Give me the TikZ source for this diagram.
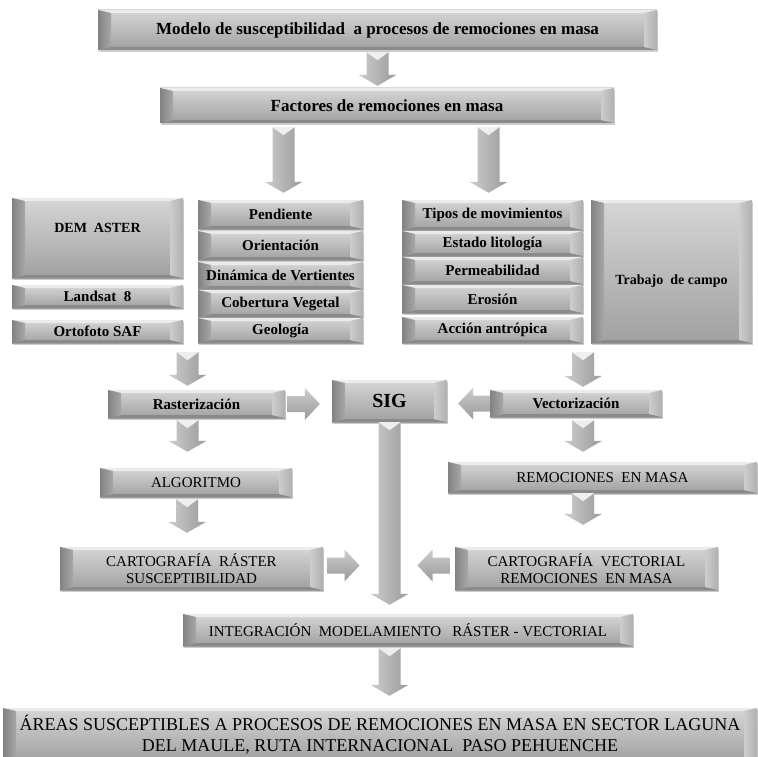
\documentclass[tikz,border=0pt]{standalone}
\usepackage{fontspec}
\setmainfont{Liberation Serif}
\usetikzlibrary{calc}
\definecolor{bodyT}{HTML}{D6D6D6}
\definecolor{bodyB}{HTML}{A0A0A0}
\definecolor{bvT}{HTML}{EBEBEB}
\definecolor{bvB}{HTML}{8A8A8A}
\definecolor{bvLa}{HTML}{828282}
\definecolor{bvLb}{HTML}{A8A8A8}
\definecolor{bvRa}{HTML}{B0B0B0}
\definecolor{bvRb}{HTML}{CDCDCD}
\definecolor{arL}{HTML}{CDCDCD}
\definecolor{arR}{HTML}{9A9A9A}
\definecolor{arV}{HTML}{EFEFEF}
\newcommand{\bvx}{13pt}
\newcommand{\bvy}{3pt}
\tikzset{
 bevbox/.style={inner sep=2pt, align=center, text=black,
   font=\bfseries\fontsize{15}{17}\selectfont,
   preaction={fill=black!20, transform canvas={xshift=1pt,yshift=-2pt}},
   path picture={
     \coordinate (pNW) at (path picture bounding box.north west);
     \coordinate (pNE) at (path picture bounding box.north east);
     \coordinate (pSW) at (path picture bounding box.south west);
     \coordinate (pSE) at (path picture bounding box.south east);
     \shade[top color=bodyT, bottom color=bodyB] (pNW) rectangle (pSE);
     \fill[bvT] (pNW) -- (pNE) -- ($(pNE)+(-\bvx,-\bvy)$) -- ($(pNW)+(\bvx,-\bvy)$) -- cycle;
     \fill[bvB] (pSW) -- (pSE) -- ($(pSE)+(-\bvx,\bvy)$) -- ($(pSW)+(\bvx,\bvy)$) -- cycle;
     \shade[left color=bvLa, right color=bvLb] (pNW) -- (pSW) -- ($(pSW)+(\bvx,\bvy)$) -- ($(pNW)+(\bvx,-\bvy)$) -- cycle;
     \shade[left color=bvRb, right color=bvRa] (pNE) -- (pSE) -- ($(pSE)+(-\bvx,\bvy)$) -- ($(pNE)+(-\bvx,-\bvy)$) -- cycle;
   }},
 capsfont/.style={font=\fontsize{15}{17}\selectfont},
 bigbold/.style={font=\bfseries\fontsize{17}{19}\selectfont},
 lbl/.style={font=\bfseries\fontsize{14}{16}\selectfont, text=black, inner sep=0pt},
}
\newcommand{\bbox}[7][]{%
 \node[bevbox,minimum width={(#5-#3)*1pt},minimum height={(#6-#4)*1pt},#1] (#2) at ({(#3+#5)/2},{(#4+#6)/2}) {#7};}
\newcommand{\dnArrow}[2]{%
 \shade[left color=arL, right color=arR] let \p1=#1, \p2=#2 in
  (\x1-11pt,\y1) -- (\x1+11pt,\y1) -- (\x1+11pt,\y2+11pt) -- (\x1+19pt,\y2+11pt) -- (\x1,\y2) -- (\x1-19pt,\y2+11pt) -- (\x1-11pt,\y2+11pt) -- cycle;
 \fill[arV] let \p1=#1 in (\x1-11pt,\y1) -- (\x1+11pt,\y1) -- (\x1,\y1-8pt) -- cycle;}
\newcommand{\rtArrow}[2]{%
 \shade[top color=arL, bottom color=arR] let \p1=#1, \p2=#2 in
  (\x1,\y1+8pt) -- (\x2-15pt,\y1+8pt) -- (\x2-15pt,\y1+16pt) -- (\x2,\y1) -- (\x2-15pt,\y1-16pt) -- (\x2-15pt,\y1-8pt) -- (\x1,\y1-8pt) -- cycle;}
\newcommand{\ltArrow}[2]{%
 \shade[top color=arL, bottom color=arR] let \p1=#1, \p2=#2 in
  (\x1,\y1+8pt) -- (\x2+15pt,\y1+8pt) -- (\x2+15pt,\y1+16pt) -- (\x2,\y1) -- (\x2+15pt,\y1-16pt) -- (\x2+15pt,\y1-8pt) -- (\x1,\y1-8pt) -- cycle;}
\begin{document}
\begin{tikzpicture}[x=1pt,y=-1pt]
\fill[white] (0,0) rectangle (758,757);
\useasboundingbox (0,0) rectangle (758,757);
% boxes
\bbox[bigbold]{top}{98}{10}{657}{50}{Modelo de susceptibilidad\ \ a procesos de remociones en masa}
\bbox[bigbold]{fact}{160}{88}{614}{123}{Factores de remociones en masa}
\bbox[label={[lbl,yshift=10pt]center:DEM\ \ ASTER}]{dem}{12}{198}{183}{278}{}
\bbox{land}{12}{285}{183}{308}{Landsat\ \ 8}
\bbox{orto}{12}{320}{183}{343}{Ortofoto SAF}
\bbox{pend}{198}{200}{363}{229}{Pendiente}
\bbox{orie}{198}{231}{363}{260}{Orientación}
\bbox{dina}{198}{262}{363}{289}{Dinámica de Vertientes}
\bbox{cobe}{198}{290}{363}{317}{Cobertura Vegetal}
\bbox{geol}{198}{318}{363}{343}{Geología}
\bbox{tipo}{402}{200}{583}{230}{Tipos de movimientos}
\bbox{esta}{402}{231}{583}{256}{Estado litología}
\bbox{perm}{402}{257}{583}{284}{Permeabilidad}
\bbox{eros}{402}{285}{583}{313}{Erosión}
\bbox{acci}{402}{317}{583}{343}{Acción antrópica}
\bbox[label={[lbl,yshift=-10pt]center:Trabajo\ \ de campo}]{trab}{591}{200}{752}{343}{}
\bbox{ras}{108}{390}{285}{418}{Rasterización}
\bbox[font=\bfseries\fontsize{20}{22}\selectfont]{sig}{332}{380}{447}{422}{SIG}
\bbox{vec}{490}{390}{662}{417}{Vectorización}
\bbox[capsfont]{algo}{100}{468}{292}{497}{ALGORITMO}
\bbox[capsfont]{remo}{448}{462}{757}{493}{REMOCIONES\ \ EN MASA}
\bbox[capsfont]{cartr}{60}{547}{323}{590}{CARTOGRAFÍA\ \ RÁSTER\\SUSCEPTIBILIDAD}
\bbox[capsfont]{cartv}{455}{547}{718}{590}{CARTOGRAFÍA\ \ VECTORIAL\\REMOCIONES\ \ EN MASA}
\bbox[capsfont]{integ}{183}{614}{633}{646}{INTEGRACIÓN\ \ MODELAMIENTO\ \ \ RÁSTER - VECTORIAL}
\bbox[font=\fontsize{18}{21}\selectfont]{final}{3}{708}{757}{762}{ÁREAS SUSCEPTIBLES A PROCESOS DE REMOCIONES EN MASA EN SECTOR LAGUNA\\DEL MAULE, RUTA INTERNACIONAL\ \ PASO PEHUENCHE}
% helper coordinates
\coordinate (lg) at ($(orto.south east)!0.5!(geol.south west)$);
\coordinate (rg) at ($(acci.south east)!0.5!(trab.south west)$);
% connectors
\dnArrow{($(top.south)+(0,2)$)}{($(fact.north)+(0,-2)$)}
\dnArrow{($(fact.south -| pend.north)+(3,4)$)}{($(pend.north)+(3,-7)$)}
\dnArrow{($(fact.south -| tipo.north)+(-4,4)$)}{($(tipo.north)+(-4,-7)$)}
\dnArrow{($(lg)+(-3,9)$)}{($(lg |- ras.north)+(-3,-4)$)}
\dnArrow{($(ras.south)+(-9,2)$)}{($(algo.north)+(-9,-16)$)}
\dnArrow{($(algo.south)+(-9,2)$)}{($(algo.south |- cartr.north)+(-9,-14)$)}
\dnArrow{($(rg)+(-4,9)$)}{($(rg |- vec.north)+(-4,-3)$)}
\dnArrow{($(vec.south)+(7,3)$)}{($(vec.south |- remo.north)+(7,-10)$)}
\dnArrow{($(remo.south -| vec.south)+(7,0)$)}{($(vec.south |- cartv.north)+(7,-22)$)}
\dnArrow{(sig.south)}{($(sig.south |- integ.north)+(0,-9)$)}
\dnArrow{($(sig.south |- integ.south)+(0,2)$)}{($(sig.south |- final.north)+(0,-12)$)}
\rtArrow{($(ras.east)+(2,0)$)}{($(ras.east -| sig.west)+(-12,0)$)}
\ltArrow{(vec.west)}{($(vec.west -| sig.east)+(11,0)$)}
\rtArrow{($(cartr.east)+(4,-3)$)}{($(cartr.east -| sig.south)+(-30,-3)$)}
\ltArrow{($(cartv.west)+(-5,-3)$)}{($(cartv.west -| sig.south)+(28,-3)$)}
\end{tikzpicture}
\end{document}
